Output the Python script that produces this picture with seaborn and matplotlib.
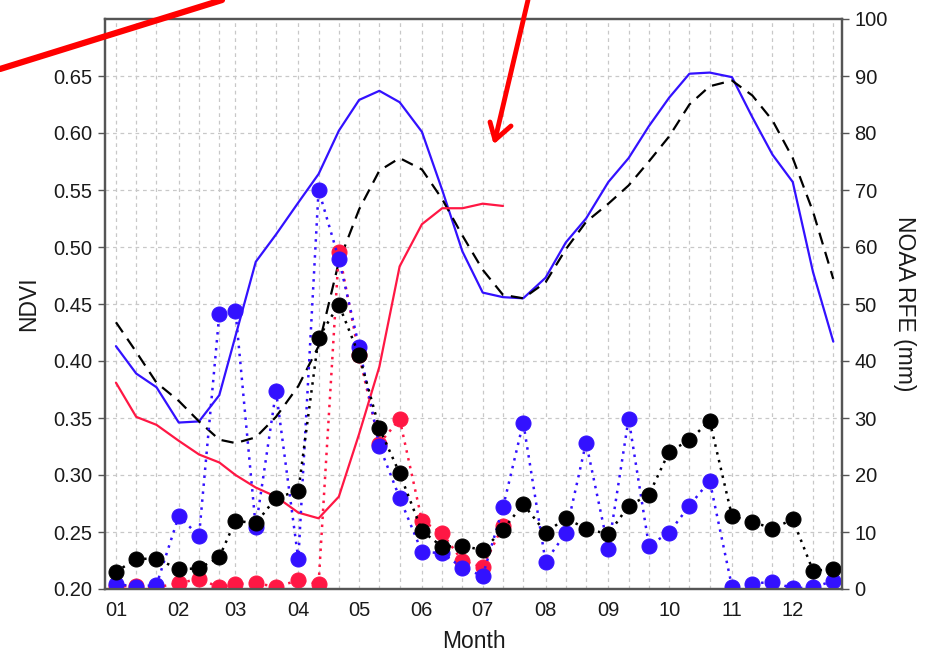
import numpy as np
import pandas as pd
import matplotlib
matplotlib.use("Agg")
import matplotlib.pyplot as plt
from matplotlib.lines import Line2D
import seaborn as sns

# --- Data (one value per dekad, 36 dekads) ---
MONTH_LABELS = ['01', '02', '03', '04', '05', '06', '07', '08', '09', '10', '11', '12']
MONTH_START = [0, 31, 59, 90, 120, 151, 181, 212, 243, 273, 304, 334]
DEKAD_DAY = [m + d for m in MONTH_START for d in (0, 10, 20)]

# NDVI (left axis)
ndvi_blue = [0.413, 0.389, 0.377, 0.346, 0.347, 0.370, 0.422, 0.487, 0.511, 0.539,
             0.564, 0.602, 0.629, 0.637, 0.627, 0.601, 0.550, 0.496, 0.460, 0.456,
             0.455, 0.473, 0.504, 0.525, 0.557, 0.578, 0.606, 0.631, 0.652, 0.653,
             0.649, 0.614, 0.581, 0.557, 0.478, 0.417]
ndvi_black = [0.434, 0.408, 0.381, 0.365, 0.347, 0.331, 0.328, 0.333, 0.351, 0.378,
              0.413, 0.487, 0.533, 0.567, 0.578, 0.568, 0.542, 0.510, 0.480, 0.458,
              0.455, 0.469, 0.498, 0.522, 0.538, 0.554, 0.575, 0.597, 0.625, 0.641,
              0.646, 0.633, 0.611, 0.578, 0.531, 0.472]
ndvi_red = [0.381, 0.351, 0.344, 0.330, 0.318, 0.311, 0.300, 0.289, 0.281, 0.267,
            0.262, 0.281, 0.336, 0.395, 0.483, 0.520, 0.534, 0.534, 0.538, 0.536]

# NOAA RFE rainfall in mm (right axis)
rain_blue = [0.9, 0.4, 0.7, 12.8, 9.3, 48.2, 48.8, 10.8, 34.7, 5.2,
             70.0, 57.9, 42.5, 25.1, 16.0, 6.5, 6.3, 3.7, 2.3, 14.3,
             29.2, 4.8, 9.8, 25.7, 7.1, 29.9, 7.6, 9.9, 14.6, 19.0,
             0.4, 0.9, 1.3, 0.1, 0.3, 1.4]
rain_black = [3.0, 5.3, 5.3, 3.5, 3.6, 5.6, 12.0, 11.5, 16.0, 17.2,
              44.1, 49.9, 41.0, 28.2, 20.3, 10.2, 7.4, 7.6, 6.8, 10.4,
              14.9, 9.9, 12.4, 10.6, 9.6, 14.6, 16.5, 24.1, 26.1, 29.5,
              12.8, 11.8, 10.6, 12.2, 3.2, 3.5]
rain_red = [0.5, 0.5, 0.3, 1.0, 1.8, 0.3, 0.9, 1.0, 0.4, 1.5,
            0.9, 59.2, 41.0, 25.5, 29.8, 12.0, 9.8, 4.9, 3.9, 11.1]

BLUE = '#3311ff'
RED = '#ff1744'
BLACK = '#000000'

sns.set_style("white")
plt.rcParams['font.family'] = ['Liberation Sans', 'DejaVu Sans']

W, H = 936, 656
fig = plt.figure(figsize=(W / 100, H / 100), dpi=100)
ax = fig.add_axes([105 / W, 1 - 589 / H, (842 - 105) / W, (589 - 19) / H])
ax2 = ax.twinx()

ndvi_df = pd.DataFrame({'day': DEKAD_DAY, 'blue': ndvi_blue, 'black': ndvi_black})
red_df = pd.DataFrame({'day': DEKAD_DAY[:len(ndvi_red)], 'ndvi': ndvi_red, 'rain': rain_red})
rain_df = pd.DataFrame({'day': DEKAD_DAY, 'blue': rain_blue, 'black': rain_black})

# NDVI curves
sns.lineplot(data=ndvi_df, x='day', y='blue', ax=ax, color=BLUE, lw=1.6)
sns.lineplot(data=ndvi_df, x='day', y='black', ax=ax, color=BLACK, lw=1.6,
             linestyle=(0, (5.5, 3.5)))
sns.lineplot(data=red_df, x='day', y='ndvi', ax=ax, color=RED, lw=1.6)

# rainfall dots
dot_kw = dict(marker='o', markersize=10.8, linestyle=(0, (1, 2.2)), lw=1.8)
sns.lineplot(data=red_df, x='day', y='rain', ax=ax2, color=RED,
             markeredgecolor=RED, **dot_kw)
sns.lineplot(data=rain_df, x='day', y='blue', ax=ax2, color=BLUE,
             markeredgecolor=BLUE, **dot_kw)
sns.lineplot(data=rain_df, x='day', y='black', ax=ax2, color=BLACK,
             markeredgecolor=BLACK, **dot_kw)

# axes limits / ticks
ax.set_xlim(-5.4, 358.3)
ax.set_ylim(0.20, 0.70)
ax2.set_ylim(0, 100)
ax.set_xticks(DEKAD_DAY)
ax.set_xticklabels([MONTH_LABELS[i // 3] if i % 3 == 0 else '' for i in range(36)])
ax.set_yticks(np.arange(0.20, 0.66, 0.05))
ax.set_yticklabels([f'{v:.2f}' for v in np.arange(0.20, 0.66, 0.05)])
ax2.set_yticks(np.arange(0, 101, 10))

ax.grid(True, color='#c8c8c8', ls=(0, (3, 3)), lw=0.9)
ax2.grid(False)
ax.set_axisbelow(True)

for a in (ax, ax2):
    for s in a.spines.values():
        s.set_color('#555555')
        s.set_linewidth(1.6)
    a.tick_params(direction='out', length=5, width=1, color='#555555',
                  labelsize=14.5, labelcolor='#1a1a1a', pad=4)

ax.set_xlabel('Month', fontsize=16.5, color='#1a1a1a')
ax.set_ylabel('NDVI', fontsize=16.5, color='#1a1a1a')
ax2.set_ylabel('NOAA RFE (mm)', fontsize=16.5, color='#1a1a1a', rotation=270)
ax.xaxis.set_label_coords(0.5, -0.072)
ax.yaxis.set_label_coords(-0.088, 0.5)
ax2.yaxis.set_label_coords(1.101, 0.5)

# hand-drawn red annotation marks
def px_line(xs, ys, lw):
    fig.add_artist(Line2D([x / W for x in xs], [1 - y / H for y in ys],
                          color='#ff0000', lw=lw, solid_capstyle='round',
                          transform=fig.transFigure, zorder=10))

px_line([0, 222], [69, 0], 4.5)
px_line([528, 495], [0, 140], 3.5)
px_line([490, 495, 511], [122, 140, 126], 3.5)

fig.savefig('out.png', dpi=100)
